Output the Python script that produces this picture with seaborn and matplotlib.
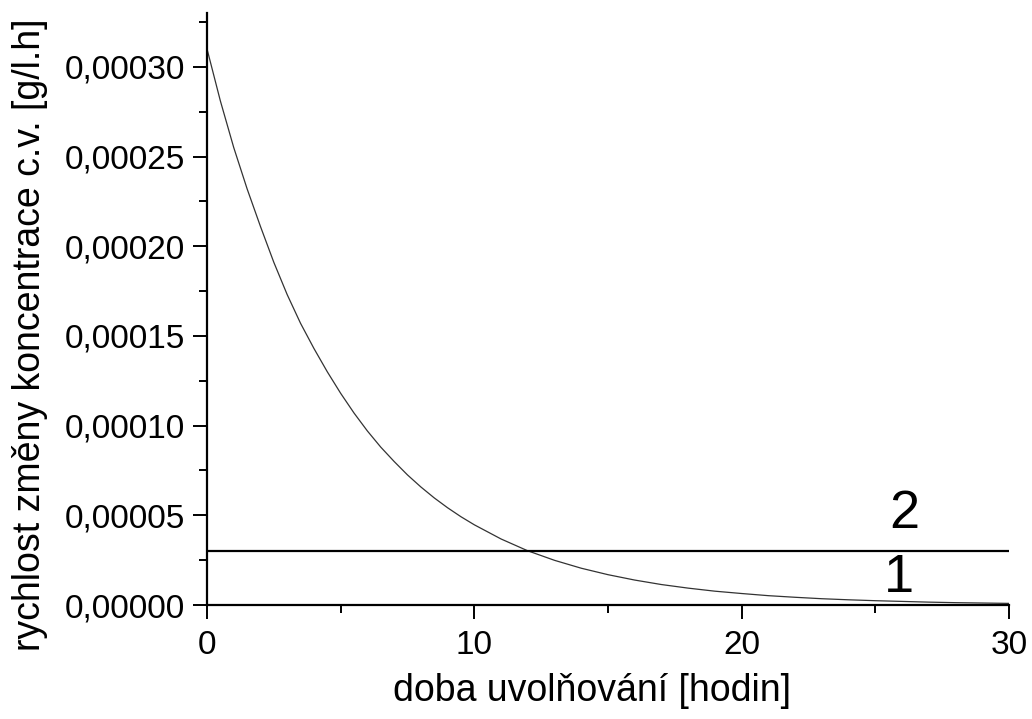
import matplotlib
matplotlib.use("Agg")
import matplotlib.pyplot as plt
from matplotlib.ticker import FuncFormatter, MultipleLocator
import seaborn as sns
import pandas as pd

# Data
time_h = [0, 0.5, 1, 1.5, 2, 2.5, 3, 3.5, 4, 4.5, 5, 5.5, 6, 6.5, 7, 7.5, 8, 8.5,
          9, 9.5, 10, 11, 12, 13, 14, 15, 16, 17, 18, 19, 20, 21, 22, 23, 24,
          25, 26, 27, 28, 29, 30]
rate_curve = [0.000310, 0.000281, 0.000255, 0.000232, 0.000211, 0.000191,
              0.000173, 0.000157, 0.000143, 0.000130, 0.000118, 0.000107,
              0.0000970, 0.0000880, 0.0000800, 0.0000725, 0.0000658, 0.0000597,
              0.0000542, 0.0000492, 0.0000447, 0.0000368, 0.0000302, 0.0000249,
              0.0000205, 0.0000169, 0.0000139, 0.0000114, 0.0000094, 0.0000077,
              0.0000064, 0.0000052, 0.0000043, 0.0000035, 0.0000029, 0.0000024,
              0.0000020, 0.0000016, 0.0000013, 0.0000011, 0.0000009]
const_x = [0, 30]
const_rate = [0.00003, 0.00003]
curve_labels = ["2", "1"]
label_x = [26.1, 25.9]
label_y = [0.0000505, 0.0000150]

xlabel = "doba uvolňování [hodin]"
ylabel = "rychlost změny koncentrace c.v. [g/l.h]"

sns.set_style("ticks")
plt.rcParams['font.family'] = ['Liberation Sans', 'DejaVu Sans']

fig = plt.figure(figsize=(10.32, 7.19), dpi=100)
ax = fig.add_axes([207 / 1032, 1 - 605 / 719, (1009 - 207) / 1032, (605 - 13) / 719])

df_curve = pd.DataFrame({"t": time_h, "r": rate_curve})
df_const = pd.DataFrame({"t": const_x, "r": const_rate})
sns.lineplot(data=df_curve, x="t", y="r", ax=ax, color="#333333", linewidth=0.9)
sns.lineplot(data=df_const, x="t", y="r", ax=ax, color="black", linewidth=1.6)

for lab, lx, ly in zip(curve_labels, label_x, label_y):
    ax.text(lx, ly, lab, fontsize=39, ha="center", va="center", color="black")

ax.set_xlim(0, 30)
ax.set_ylim(0, 0.00033)
ax.xaxis.set_major_locator(MultipleLocator(10))
ax.xaxis.set_minor_locator(MultipleLocator(5))
ax.yaxis.set_major_locator(MultipleLocator(0.00005))
ax.yaxis.set_minor_locator(MultipleLocator(0.000025))
ax.yaxis.set_major_formatter(FuncFormatter(lambda v, p: f"{v:.5f}".replace(".", ",")))
ax.xaxis.set_major_formatter(FuncFormatter(lambda v, p: f"{v:.0f}"))

ax.tick_params(axis="both", which="major", length=10, width=1.4, labelsize=24,
               direction="out", color="black", labelcolor="black")
ax.tick_params(axis="both", which="minor", length=6, width=1.4, direction="out",
               color="black")
ax.tick_params(axis="x", which="major", pad=8)
ax.tick_params(axis="y", which="major", pad=6)

for s in ["top", "right"]:
    ax.spines[s].set_visible(False)
for s in ["left", "bottom"]:
    ax.spines[s].set_linewidth(1.6)
    ax.spines[s].set_color("black")

ax.set_xlabel(xlabel, fontsize=27, color="black", va="center", ha="center")
ax.xaxis.set_label_coords(0.48, -0.145)
ax.set_ylabel(ylabel, fontsize=27, color="black", va="center", ha="center")
ax.yaxis.set_label_coords(-0.221, 0.456)

fig.savefig("out.png", dpi=100)
